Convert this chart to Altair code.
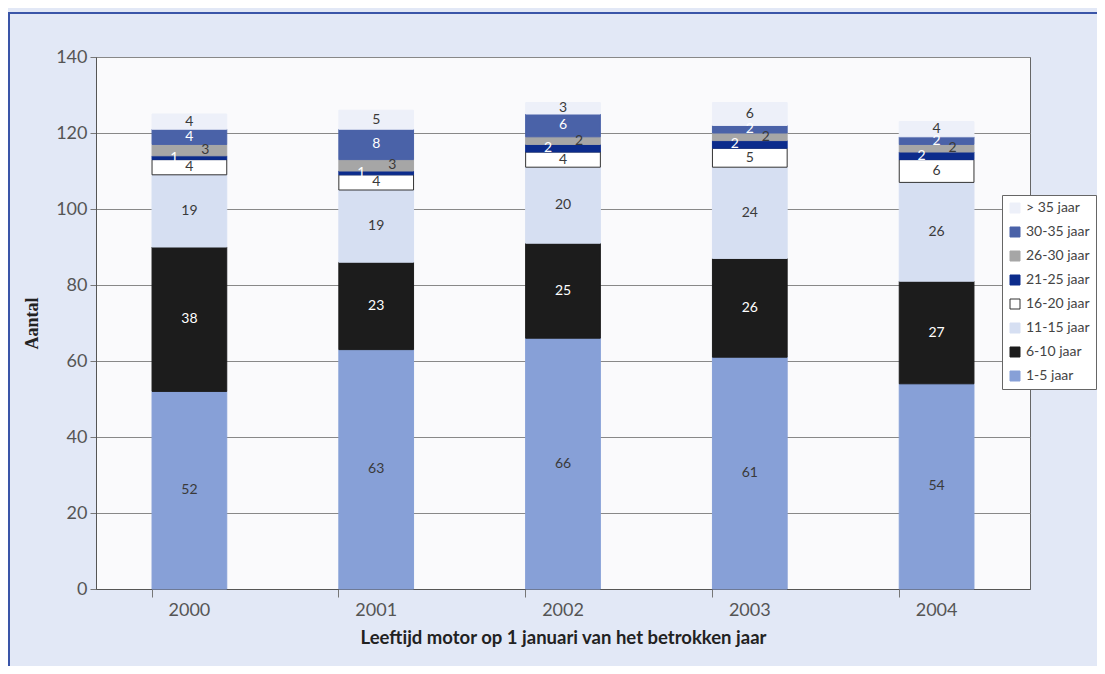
import altair as alt
import pandas as pd

years = ["2000", "2001", "2002", "2003", "2004"]
categories = ["1-5 jaar", "6-10 jaar", "11-15 jaar", "16-20 jaar",
              "21-25 jaar", "26-30 jaar", "30-35 jaar", "> 35 jaar"]
v_1_5 = [52, 63, 66, 61, 54]
v_6_10 = [38, 23, 25, 26, 27]
v_11_15 = [19, 19, 20, 24, 26]
v_16_20 = [4, 4, 4, 5, 6]
v_21_25 = [1, 1, 2, 2, 2]
v_26_30 = [3, 3, 2, 2, 2]
v_30_35 = [4, 8, 6, 2, 2]
v_35plus = [4, 5, 3, 6, 4]
series = [v_1_5, v_6_10, v_11_15, v_16_20, v_21_25, v_26_30, v_30_35, v_35plus]

colors = ["#87a0d7", "#1c1c1c", "#d6dff2", "#ffffff",
          "#0c2c8c", "#a6a6a6", "#4a62a8", "#edf0f9"]

rows = []
for yi, y in enumerate(years):
    cum = 0
    for ci, c in enumerate(categories):
        v = series[ci][yi]
        rows.append({"year": y, "cat": c, "val": v, "ord": ci,
                     "start": cum, "end": cum + v, "mid": cum + v / 2})
        cum += v
df = pd.DataFrame(rows)

legend_domain = categories[::-1]
legend_range = colors[::-1]
stroke_range = ["#333333" if c == "16-20 jaar" else col
                for c, col in zip(legend_domain, legend_range)]

FONT = "Lato"

xenc = alt.X("year:N", scale=alt.Scale(paddingInner=0.6, paddingOuter=0.3),
             axis=alt.Axis(title="Leeftijd motor op 1 januari van het betrokken jaar",
                           labelAngle=0, bandPosition=0, tickSize=8,
                           tickColor="#777", domainColor="#555",
                           labelFontSize=18, labelColor="#555", labelFont=FONT,
                           labelPadding=4, titleFont=FONT, titleFontSize=18.5,
                           titleFontWeight="bold", titleColor="#222", titlePadding=9))

leg = alt.Legend(title=None, orient="none", legendX=906, legendY=138,
                 symbolType="square", symbolSize=100, symbolStrokeWidth=1,
                 labelFontSize=14, labelColor="#444", labelFont=FONT,
                 rowPadding=10, padding=6, fillColor="white",
                 strokeColor="#666", labelOffset=4)

base = alt.Chart(df)

bars = base.mark_bar(strokeWidth=1).encode(
    x=xenc,
    y=alt.Y("start:Q", scale=alt.Scale(domain=[0, 140], nice=False),
            axis=alt.Axis(title="Aantal", values=list(range(0, 141, 20)),
                          grid=True, gridColor="#888", tickSize=6, tickColor="#777",
                          domainColor="#555", labelFontSize=18, labelColor="#555",
                          labelFont=FONT, labelPadding=3,
                          titleFont="Liberation Serif", titleFontSize=18,
                          titleFontWeight="bold", titleColor="#222", titlePadding=14)),
    y2="end:Q",
    fill=alt.Fill("cat:N", scale=alt.Scale(domain=legend_domain, range=legend_range),
                  legend=leg),
    stroke=alt.Stroke("cat:N", scale=alt.Scale(domain=legend_domain, range=stroke_range),
                      legend=leg),
    order=alt.Order("ord:Q"),
)

light_text = ["6-10 jaar", "21-25 jaar", "30-35 jaar"]
tcolor = alt.condition(alt.FieldOneOfPredicate(field="cat", oneOf=light_text),
                       alt.value("white"), alt.value("#3a3a3a"))

def text_layer(cats, dx):
    return base.mark_text(font=FONT, fontSize=14, dx=dx, baseline="middle").encode(
        x="year:N", y="mid:Q", text="val:Q", color=tcolor
    ).transform_filter(alt.FieldOneOfPredicate(field="cat", oneOf=cats))

main_cats = [c for c in categories if c not in ("21-25 jaar", "26-30 jaar")]
t_main = text_layer(main_cats, 0)
t_left = text_layer(["21-25 jaar"], -15)
t_right = text_layer(["26-30 jaar"], 16)

frame = alt.Chart(pd.DataFrame({"a": [0]})).mark_rect(
    fill=None, stroke="#3a55a8", strokeWidth=2, clip=False
).encode(x=alt.value(-87), x2=alt.value(1100), y=alt.value(-44), y2=alt.value(720))

chart = alt.layer(bars, t_main, t_left, t_right, frame).properties(
    width=934, height=532,
    background="#e2e8f6",
    padding={"left": 88, "top": 49, "right": 67, "bottom": 77},
    autosize=alt.AutoSizeParams(type="none"),
).configure_view(fill="#fafafc", stroke="#666", strokeWidth=1)

chart.save("out.html", embed_options={"renderer": "svg", "actions": False})
